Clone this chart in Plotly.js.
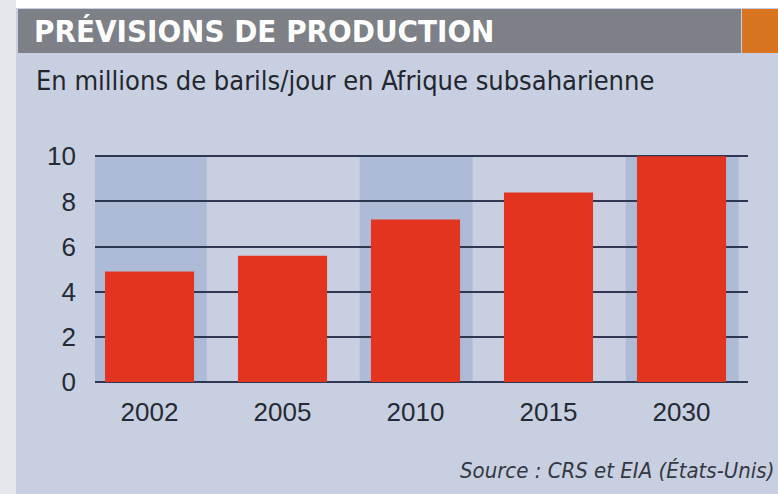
<!DOCTYPE html>
<html>
<head>
<meta charset="utf-8">
<script src="https://cdn.plot.ly/plotly-3.0.1.min.js"></script>
<style>
  html, body { margin: 0; padding: 0; background: #ffffff; }
  #chart { width: 778px; height: 494px; }
</style>
</head>
<body>
<div id="chart"></div>
<script>
// production forecast, millions of barrels/day, sub-Saharan Africa
const years = ['2002', '2005', '2010', '2015', '2030'];
const production = [4.9, 5.6, 7.2, 8.4, 10];
const shadedYears = ['2002', '2010', '2030'];
const yTicks = [0, 2, 4, 6, 8, 10];

const titleText = 'PRÉVISIONS DE PRODUCTION';
const subtitleText = 'En millions de barils/jour en Afrique subsaharienne';
const sourceText = 'Source : CRS et EIA (États-Unis)';

// plot area in pixels
const W = 778, H = 494;
const L = 95, R = 748, T = 155, B = 382;
const px = x => (x - L) / (R - L);
const py = y => (B - y) / (B - T);

const narrow = '"Liberation Sans Narrow", "DejaVu Sans Condensed", "Arial Narrow", sans-serif';
const sans = '"Liberation Sans", Arial, sans-serif';

const shapes = [
    // white scan margins
    { type: 'rect', xref: 'paper', yref: 'paper', x0: px(0), x1: px(W), y0: py(0), y1: py(8),
      fillcolor: '#ffffff', line: { width: 0 }, layer: 'below' },
    { type: 'rect', xref: 'paper', yref: 'paper', x0: px(0), x1: px(16), y0: py(0), y1: py(H),
      fillcolor: '#e4e6ec', line: { width: 0 }, layer: 'below' },
    // title band
    { type: 'rect', xref: 'paper', yref: 'paper', x0: px(18), x1: px(741), y0: py(9), y1: py(53),
      fillcolor: '#7e8087', line: { width: 0 }, layer: 'below' },
    { type: 'rect', xref: 'paper', yref: 'paper', x0: px(742), x1: px(W), y0: py(9), y1: py(53),
      fillcolor: '#d8731f', line: { width: 0 }, layer: 'below' }
];

// shaded columns behind alternate years
for (const yr of shadedYears) {
    const i = years.indexOf(yr);
    shapes.push({
        type: 'rect', xref: 'x', yref: 'paper',
        x0: i - 0.42, x1: i + 0.43, y0: 0, y1: 1,
        fillcolor: '#adbbd6', line: { width: 0 }, layer: 'below'
    });
}

const traces = [{
    type: 'bar',
    x: years,
    y: production,
    marker: { color: '#e3341f', line: { width: 0 } },
    hoverinfo: 'x+y'
}];

const layout = {
    width: W,
    height: H,
    margin: { l: L, r: W - R, t: T, b: H - B },
    paper_bgcolor: '#c8cfe1',
    plot_bgcolor: 'rgba(0,0,0,0)',
    showlegend: false,
    bargap: 0.33,
    title: {
        text: titleText,
        font: { family: narrow, size: 31, color: '#ffffff', weight: 'bold' },
        xref: 'container', yref: 'container',
        x: 34 / W, xanchor: 'left',
        y: 1 - 31 / H, yanchor: 'middle'
    },
    xaxis: {
        type: 'category',
        range: [-0.41, 4.5],
        showgrid: false,
        zeroline: false,
        showline: false,
        ticks: '',
        ticklabelstandoff: 12,
        tickfont: { family: sans, size: 26, color: '#262a34' }
    },
    yaxis: {
        range: [0, 10.06],
        tickvals: yTicks,
        showgrid: true,
        gridcolor: '#2e3852',
        gridwidth: 2,
        zeroline: true,
        zerolinecolor: '#2e3852',
        zerolinewidth: 2,
        showline: false,
        ticks: '',
        ticklabelstandoff: 18,
        tickfont: { family: sans, size: 26, color: '#262a34' }
    },
    shapes: shapes,
    annotations: [
        {
            text: subtitleText, xref: 'paper', yref: 'paper',
            x: px(34), y: py(81), xanchor: 'left', yanchor: 'middle', showarrow: false,
            font: { family: narrow, size: 27, color: '#23262e' }
        },
        {
            text: '<i>' + sourceText + '</i>', xref: 'paper', yref: 'paper',
            x: px(776), y: py(470), xanchor: 'right', yanchor: 'middle', showarrow: false,
            font: { family: narrow, size: 22, color: '#343843' }
        }
    ]
};

Plotly.newPlot('chart', traces, layout, { displayModeBar: false, staticPlot: true });
</script>
</body>
</html>
